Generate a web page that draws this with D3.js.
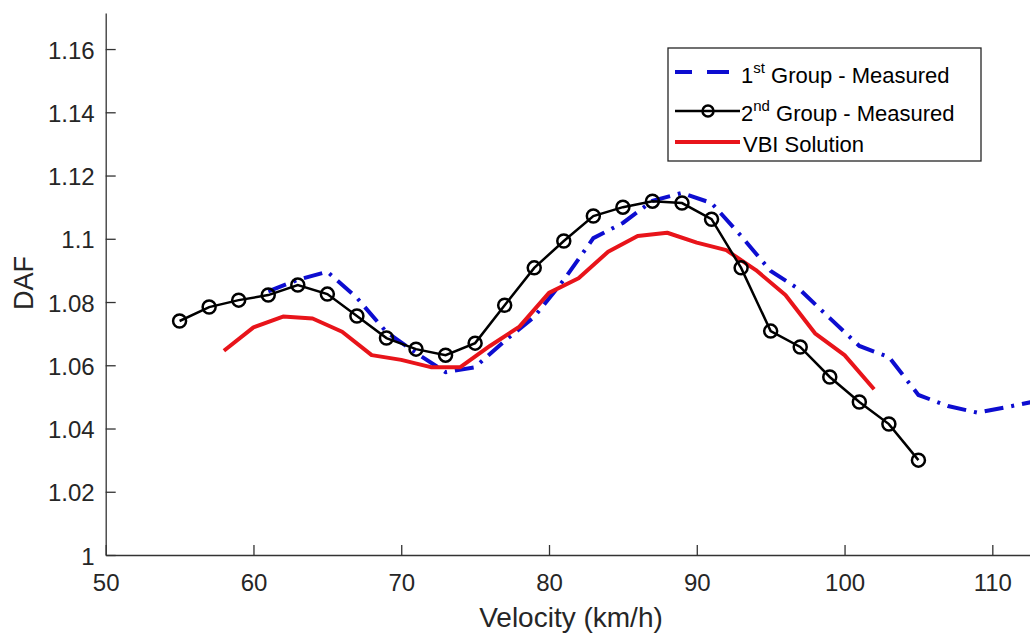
<!DOCTYPE html>
<html>
<head>
<meta charset="utf-8">
<script src="https://cdn.jsdelivr.net/npm/d3@7"></script>
<style>
  body { margin: 0; background: #fff; }
  svg { display: block; font-family: "Liberation Sans", Arial, sans-serif; }
</style>
</head>
<body>
<svg width="1030" height="633"></svg>
<script>
// values
let group1V = [61, 63, 65, 67, 69, 71, 73, 75, 77, 79, 81, 83, 85, 87, 89, 91, 93, 95, 97, 99, 101, 103, 105, 107, 109, 111, 113];
let group1DAF = [1.0834, 1.0870, 1.0896, 1.0813, 1.0705, 1.0639, 1.0578, 1.0594, 1.0677, 1.0753, 1.0870, 1.1002, 1.1050, 1.1120, 1.1145, 1.1113, 1.1009, 1.0898, 1.0838, 1.0749, 1.0661, 1.0626, 1.0506, 1.0471, 1.0450, 1.0468, 1.0487];

let group2V = [55, 57, 59, 61, 63, 65, 67, 69, 71, 73, 75, 77, 79, 81, 83, 85, 87, 89, 91, 93, 95, 97, 99, 101, 103, 105];
let group2DAF = [1.0740, 1.0784, 1.0806, 1.0822, 1.0854, 1.0825, 1.0756, 1.0686, 1.0651, 1.0632, 1.0670, 1.0790, 1.0908, 1.0993, 1.1072, 1.1100, 1.1119, 1.1113, 1.1062, 1.0908, 1.0708, 1.0658, 1.0563, 1.0484, 1.0414, 1.0300];

let vbiV = [58, 60, 62, 64, 66, 68, 70, 72, 74, 76, 78, 80, 82, 84, 86, 88, 90, 92, 94, 96, 98, 100, 102];
let vbiDAF = [1.0646, 1.0720, 1.0754, 1.0748, 1.0706, 1.0632, 1.0617, 1.0594, 1.0594, 1.0661, 1.0722, 1.0829, 1.0875, 1.0959, 1.1009, 1.1019, 1.0988, 1.0964, 1.0901, 1.0822, 1.0701, 1.0632, 1.0524];

let xTicks = [50, 60, 70, 80, 90, 100, 110];
let yTicks = [1, 1.02, 1.04, 1.06, 1.08, 1.1, 1.12, 1.14, 1.16];

let legendLabels = [
  { main: "1", sup: "st", rest: " Group - Measured" },
  { main: "2", sup: "nd", rest: " Group - Measured" },
  { main: "VBI Solution", sup: "", rest: "" }
];

function drawChart() {
  var svg = d3.select("svg");
  var pLeft = 105.7, pRight = 1030, pTop = 13, pBottom = 555;
  var axisColor = "#333", textColor = "#262626";
  var blue = "#0d0dd0", red = "#e8141a", black = "#000";

  var x = d3.scaleLinear().domain([50, 112.55]).range([pLeft, pRight]);
  var y = d3.scaleLinear().domain([1, 1.1714]).range([pBottom, pTop]);

  svg.append("defs").append("clipPath").attr("id", "plotclip")
    .append("rect").attr("x", pLeft).attr("y", pTop).attr("width", pRight - pLeft).attr("height", pBottom - pTop);

  // axes, ticks pointing inward like matlab
  var xAxis = svg.append("g").attr("transform", "translate(0," + pBottom + ")")
    .call(d3.axisBottom(x).tickValues(xTicks).tickSizeInner(-10).tickSizeOuter(0).tickPadding(19));
  var yAxis = svg.append("g").attr("transform", "translate(" + pLeft + ",0)")
    .call(d3.axisLeft(y).tickValues(yTicks).tickFormat(d3.format("")).tickSizeInner(-10).tickSizeOuter(0).tickPadding(11));

  [xAxis, yAxis].forEach(function(a) {
    a.select(".domain").attr("stroke", axisColor).attr("stroke-width", 1.3);
    a.selectAll(".tick line").attr("stroke", axisColor).attr("stroke-width", 1.3);
    a.selectAll(".tick text").attr("fill", textColor).attr("font-size", 24)
      .attr("font-family", "Liberation Sans, Arial, sans-serif");
  });
  yAxis.selectAll(".tick text").attr("dy", "0.38em");

  // axis titles
  svg.append("text").attr("x", 571).attr("y", 627).attr("text-anchor", "middle")
    .attr("font-size", 28).attr("fill", textColor).text("Velocity (km/h)");
  svg.append("text").attr("transform", "translate(33,283) rotate(-90)").attr("text-anchor", "middle")
    .attr("font-size", 27).attr("fill", textColor).text("DAF");

  var plot = svg.append("g").attr("clip-path", "url(#plotclip)");

  function lineOf(xs, ys) {
    return d3.line().x(function(d, i) { return x(xs[i]); }).y(function(d, i) { return y(ys[i]); })(xs);
  }

  // 1st group - dash dot
  plot.append("path").attr("d", lineOf(group1V, group1DAF))
    .attr("fill", "none").attr("stroke", blue).attr("stroke-width", 4)
    .attr("stroke-dasharray", "19,8,3,8");

  // VBI solution
  plot.append("path").attr("d", lineOf(vbiV, vbiDAF))
    .attr("fill", "none").attr("stroke", red).attr("stroke-width", 4).attr("stroke-linejoin", "round");

  // 2nd group with circle markers
  plot.append("path").attr("d", lineOf(group2V, group2DAF))
    .attr("fill", "none").attr("stroke", black).attr("stroke-width", 2.5);
  plot.selectAll("circle.m").data(group2V).enter().append("circle")
    .attr("class", "m")
    .attr("cx", function(d) { return x(d); })
    .attr("cy", function(d, i) { return y(group2DAF[i]); })
    .attr("r", 6.5).attr("fill", "none").attr("stroke", black).attr("stroke-width", 2.5);

  // legend
  var lg = svg.append("g");
  lg.append("rect").attr("x", 668).attr("y", 48).attr("width", 313).attr("height", 113)
    .attr("fill", "#fff").attr("stroke", "#262626").attr("stroke-width", 1.3);

  var rowY = [72, 111, 142];
  var rowBase = [83, 121, 152];

  lg.append("line").attr("x1", 675).attr("x2", 738).attr("y1", rowY[0]).attr("y2", rowY[0])
    .attr("stroke", blue).attr("stroke-width", 4).attr("stroke-dasharray", "17,15,22,20");
  lg.append("line").attr("x1", 675).attr("x2", 740).attr("y1", rowY[1]).attr("y2", rowY[1])
    .attr("stroke", black).attr("stroke-width", 2.5);
  lg.append("circle").attr("cx", 708).attr("cy", rowY[1]).attr("r", 5.5)
    .attr("fill", "none").attr("stroke", black).attr("stroke-width", 2.5);
  lg.append("line").attr("x1", 675).attr("x2", 740).attr("y1", rowY[2]).attr("y2", rowY[2])
    .attr("stroke", red).attr("stroke-width", 4);

  legendLabels.forEach(function(l, i) {
    var t = lg.append("text").attr("x", i == 2 ? 743 : 741).attr("y", rowBase[i])
      .attr("font-size", 22).attr("fill", "#000");
    t.append("tspan").text(l.main);
    if (l.sup) {
      t.append("tspan").attr("font-size", 15).attr("dy", -10).text(l.sup);
      t.append("tspan").attr("dy", 10).text(l.rest);
    }
  });
}

drawChart();
</script>
</body>
</html>
